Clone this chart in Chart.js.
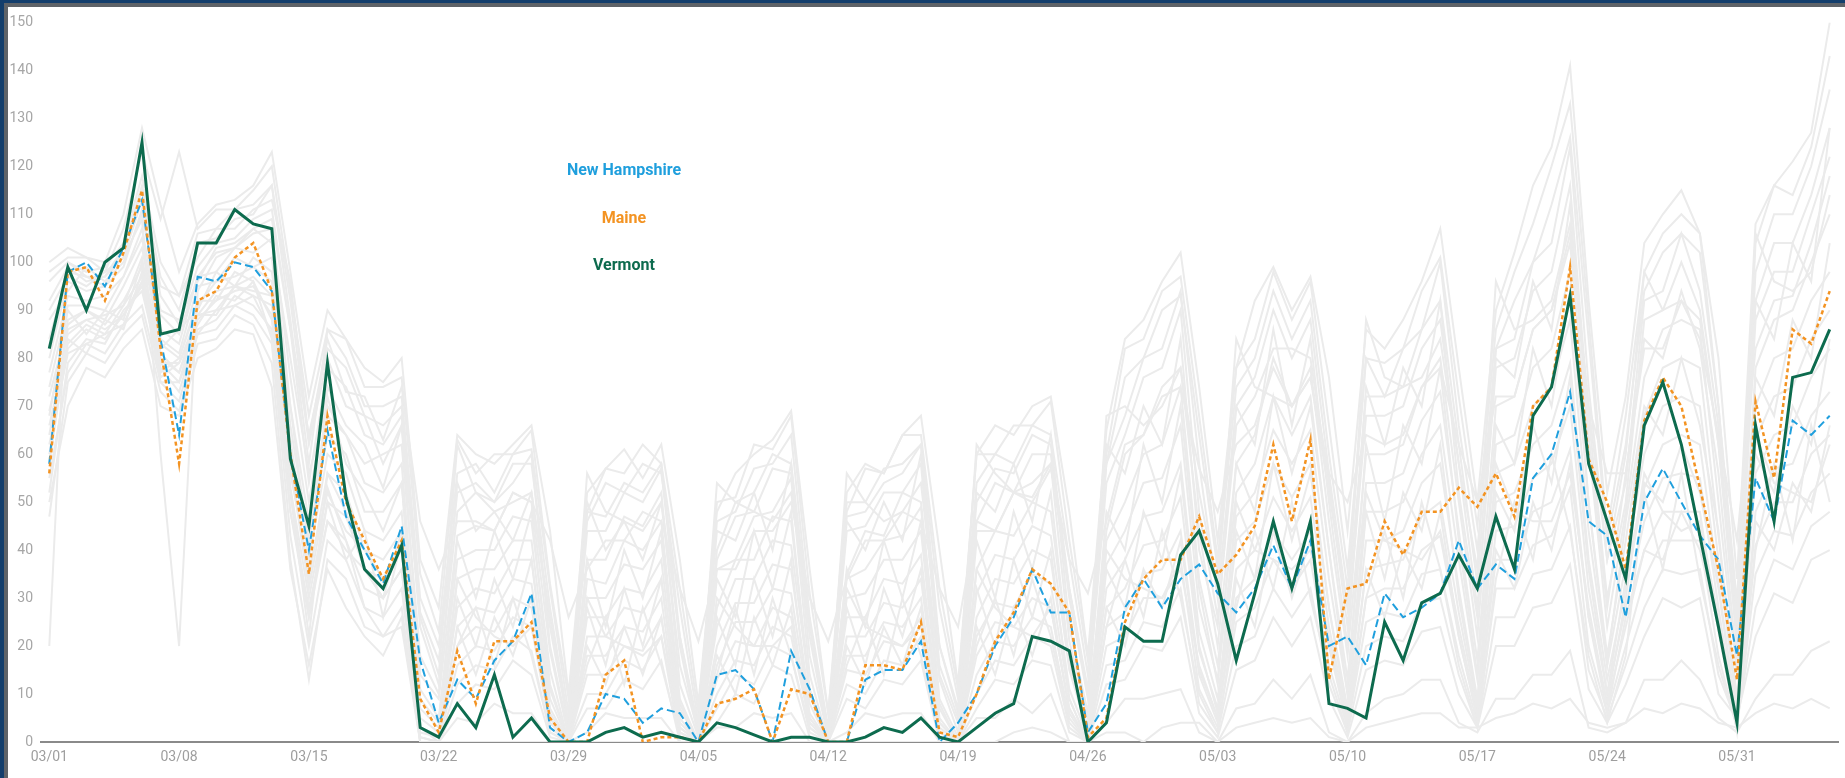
<!DOCTYPE html>
<html>
<head>
<meta charset="utf-8">
<title>New England vs other states</title>
<script src="https://cdn.jsdelivr.net/npm/chart.js@4.4.1/dist/chart.umd.min.js"></script>
<style>
  html, body { margin: 0; padding: 0; width: 1845px; height: 778px; overflow: hidden; background: #133e6c; }
  #edge { position: absolute; left: 4px; top: 3px; right: 0; bottom: 0; background: #5f6368; }
  #wrap { position: absolute; left: 8px; top: 7px; width: 1837px; height: 771px; background: #fff; }
</style>
</head>
<body>
<div id="edge"></div>
<div id="wrap"><canvas id="chart"></canvas></div>
<script>
// Dates 03/01 - 06/05
const days = [
  '03/01','03/02','03/03','03/04','03/05','03/06','03/07','03/08','03/09','03/10','03/11','03/12','03/13','03/14','03/15','03/16',
  '03/17','03/18','03/19','03/20','03/21','03/22','03/23','03/24','03/25','03/26','03/27','03/28','03/29','03/30','03/31',
  '04/01','04/02','04/03','04/04','04/05','04/06','04/07','04/08','04/09','04/10','04/11','04/12','04/13','04/14','04/15',
  '04/16','04/17','04/18','04/19','04/20','04/21','04/22','04/23','04/24','04/25','04/26','04/27','04/28','04/29','04/30',
  '05/01','05/02','05/03','05/04','05/05','05/06','05/07','05/08','05/09','05/10','05/11','05/12','05/13','05/14','05/15',
  '05/16','05/17','05/18','05/19','05/20','05/21','05/22','05/23','05/24','05/25','05/26','05/27','05/28','05/29','05/30',
  '05/31','06/01','06/02','06/03','06/04','06/05'
];

// highlighted states
const newHampshire = [
  58, 98, 100, 95, 103, 113, 84, 64, 97, 96, 100, 99, 94,
  60, 40, 65, 47, 40, 33, 45, 17,
  4, 13, 9, 17, 21, 31, 3,
  0, 2, 10, 9, 4, 7, 6,
  0, 14, 15, 11, 0, 19, 11,
  0, 0, 13, 15, 15, 21, 0,
  4, 10, 20, 26, 36, 27, 27,
  2, 8, 28, 34, 28, 34, 37,
  31, 27, 32, 41, 32, 42, 20,
  22, 16, 31, 26, 28, 31, 42,
  32, 37, 34, 55, 60, 73, 46,
  43, 26, 50, 57, 50, 43, 38,
  18, 55, 46, 67, 64, 68
];
const maine = [
  56, 98, 99, 92, 102, 115, 82, 58, 92, 94, 101, 104, 94,
  60, 35, 68, 50, 42, 34, 42, 9,
  2, 19, 8, 21, 21, 25, 5,
  0, 0, 14, 17, 0, 1, 1,
  0, 8, 9, 11, 0, 11, 10,
  0, 0, 16, 16, 15, 25, 2,
  1, 10, 21, 27, 36, 33, 27,
  1, 5, 25, 34, 38, 38, 47,
  35, 39, 45, 62, 46, 63, 13,
  32, 33, 46, 39, 48, 48, 53,
  49, 56, 47, 70, 74, 99, 59,
  50, 36, 67, 76, 70, 53, 36,
  13, 71, 55, 86, 83, 94
];
const vermont = [
  82, 99, 90, 100, 103, 125, 85, 86, 104, 104, 111, 108, 107,
  59, 45, 79, 51, 36, 32, 41, 3,
  1, 8, 3, 14, 1, 5, 0,
  0, 0, 2, 3, 1, 2, 1,
  0, 4, 3, 1.5, 0, 1, 1,
  0, 0, 1, 3, 2, 5, 1,
  0, 3, 6, 8, 22, 21, 19,
  0, 4, 24, 21, 21, 39, 44,
  33, 17, 31, 46, 32, 46, 8,
  7, 5, 25, 17, 29, 31, 39,
  32, 47, 36, 68, 74, 93, 58,
  46, 34, 66, 75, 62, 43, 24,
  4, 66, 46, 76, 77, 86
];

// the other states, drawn in grey
const grayA = [
  100, 103, 101, 100, 110, 128, 112, 98, 108, 112, 113, 116, 123,
  98, 72, 90, 84, 78, 75, 80, 38,
  28, 64, 60, 58, 62, 66, 44,
  10, 52, 57, 61, 55, 62, 38,
  8, 48, 56, 60, 63, 69, 36,
  6, 52, 58, 56, 64, 68, 40,
  12, 60, 66, 64, 70, 72, 48,
  18, 65, 84, 88, 96, 102, 74,
  42, 78, 92, 99, 90, 97, 76,
  44, 86, 82, 88, 96, 107, 78,
  50, 90, 102, 116, 124, 141, 92,
  52, 72, 104, 110, 115, 106, 80,
  34, 108, 116, 121, 127, 150
];
const grayB = [
  96, 100, 98, 99, 104, 118, 100, 93, 106, 107, 111, 112, 116,
  88, 58, 86, 80, 70, 70, 72, 30,
  20, 56, 58, 52, 60, 61, 32,
  6, 46, 54, 52, 58, 56, 28,
  4, 46, 48, 57, 58, 64, 26,
  3, 50, 50, 57, 58, 62, 28,
  9, 54, 60, 58, 66, 64, 38,
  14, 58, 76, 80, 90, 93, 64,
  36, 74, 80, 94, 84, 92, 60,
  32, 80, 72, 82, 86, 100, 66,
  40, 82, 92, 100, 112, 126, 84,
  42, 62, 94, 102, 106, 102, 70,
  26, 98, 110, 110, 120, 136
];
const grayC = [
  84, 98, 97, 95, 103, 115, 93, 87, 99, 104, 105, 109, 111,
  86, 54, 78, 74, 64, 62, 68, 24,
  12, 48, 52, 50, 54, 60, 20,
  2, 44, 44, 52, 50, 57, 20,
  1, 38, 47, 48, 57, 56, 22,
  1, 44, 45, 52, 52, 58, 16,
  5, 46, 54, 52, 60, 60, 30,
  9, 54, 64, 76, 78, 90, 48,
  26, 66, 72, 82, 82, 80, 54,
  24, 68, 68, 70, 82, 88, 58,
  28, 78, 80, 94, 98, 116, 68,
  30, 50, 88, 90, 100, 90, 62,
  20, 88, 98, 98, 110, 122
];
const grayD = [
  80, 96, 94, 95, 99, 111, 89, 85, 97, 102, 103, 106, 107,
  76, 50, 74, 66, 62, 53, 66, 14,
  9, 43, 45, 44, 52, 50, 19,
  1, 38, 38, 47, 45, 52, 12,
  1, 36, 38, 47, 48, 55, 14,
  0, 35, 44, 43, 52, 50, 13,
  2, 44, 44, 52, 51, 58, 21,
  5, 44, 60, 64, 74, 78, 44,
  20, 58, 64, 80, 70, 78, 46,
  18, 60, 60, 62, 74, 80, 50,
  22, 70, 72, 86, 90, 104, 62,
  24, 48, 76, 86, 88, 86, 50,
  14, 78, 88, 90, 100, 110
];
const grayE = [
  77, 93, 92, 93, 97, 107, 86, 83, 97, 98, 103, 102, 105,
  70, 46, 68, 64, 54, 52, 58, 11,
  5, 38, 40, 40, 47, 46, 15,
  0, 34, 33, 42, 40, 46, 9,
  0, 28, 38, 38, 47, 46, 11,
  0, 34, 36, 42, 43, 49, 9,
  1, 36, 44, 43, 50, 48, 17,
  3, 42, 50, 60, 62, 74, 34,
  16, 52, 58, 72, 64, 72, 40,
  13, 54, 54, 56, 67, 73, 44,
  17, 62, 64, 78, 82, 98, 50,
  18, 42, 68, 78, 80, 78, 43,
  9, 70, 80, 82, 92, 98
];
const grayF = [
  74, 91, 91, 90, 97, 105, 84, 81, 95, 96, 101, 99, 101,
  66, 42, 64, 60, 48, 48, 54, 7,
  3, 34, 36, 36, 42, 42, 11,
  0, 30, 30, 37, 36, 42, 7,
  0, 24, 34, 34, 42, 41, 11,
  0, 30, 31, 38, 38, 44, 7,
  0, 31, 39, 38, 45, 43, 15,
  2, 37, 44, 54, 55, 66, 28,
  13, 47, 52, 65, 58, 65, 34,
  10, 48, 48, 50, 60, 66, 38,
  13, 56, 58, 70, 74, 88, 44,
  16, 37, 60, 70, 72, 70, 38,
  7, 63, 72, 74, 84, 90
];
const grayG = [
  72, 87, 90, 88, 95, 103, 83, 80, 91, 96, 97, 99, 96,
  63, 38, 60, 56, 44, 42, 48, 5,
  2, 28, 32, 31, 38, 38, 9,
  0, 26, 26, 32, 31, 38, 5,
  0, 20, 29, 29, 37, 36, 8,
  0, 26, 26, 34, 33, 39, 5,
  0, 26, 34, 33, 40, 38, 11,
  1, 32, 38, 47, 48, 58, 23,
  9, 42, 46, 58, 51, 58, 28,
  7, 42, 42, 44, 54, 58, 32,
  9, 50, 52, 62, 66, 79, 38,
  13, 32, 53, 62, 64, 62, 33,
  5, 56, 64, 66, 76, 82
];
const grayH = [
  69, 85, 88, 89, 91, 101, 79, 79, 89, 94, 95, 97, 93,
  58, 34, 56, 52, 40, 38, 44, 3,
  1, 24, 28, 27, 34, 33, 7,
  0, 22, 22, 28, 27, 34, 3,
  0, 16, 25, 25, 32, 31, 6,
  0, 22, 22, 29, 28, 34, 4,
  0, 22, 29, 28, 35, 33, 9,
  0, 28, 32, 41, 42, 51, 19,
  7, 36, 40, 51, 44, 51, 24,
  5, 36, 37, 38, 47, 50, 27,
  7, 44, 45, 55, 58, 70, 32,
  10, 28, 46, 55, 56, 55, 28,
  3, 48, 57, 58, 68, 73
];
const grayI = [
  66, 83, 87, 85, 91, 97, 79, 75, 89, 90, 95, 93, 91,
  53, 30, 50, 47, 36, 34, 40, 1,
  0, 20, 24, 23, 30, 28, 5,
  0, 18, 18, 24, 23, 30, 2,
  0, 13, 21, 20, 28, 26, 5,
  0, 18, 18, 25, 24, 30, 2,
  0, 18, 25, 24, 30, 28, 7,
  0, 24, 27, 35, 36, 44, 15,
  5, 30, 34, 44, 38, 44, 20,
  4, 30, 32, 32, 40, 43, 22,
  5, 38, 38, 48, 50, 61, 26,
  8, 24, 40, 48, 48, 48, 23,
  3, 41, 50, 50, 60, 64
];
const grayJ = [
  62, 81, 83, 85, 87, 96, 75, 75, 85, 90, 91, 93, 85,
  48, 26, 46, 42, 32, 30, 36, 0,
  0, 16, 20, 19, 26, 24, 3,
  0, 14, 14, 20, 19, 26, 1,
  0, 10, 17, 16, 24, 22, 4,
  0, 15, 14, 21, 20, 26, 1,
  0, 14, 21, 20, 26, 24, 5,
  0, 20, 22, 30, 30, 38, 11,
  3, 25, 28, 38, 32, 38, 16,
  3, 25, 27, 26, 35, 36, 18,
  4, 32, 32, 41, 43, 53, 20,
  6, 20, 34, 42, 42, 42, 18,
  3, 35, 44, 43, 52, 56
];
const grayK = [
  55, 77, 83, 81, 87, 91, 75, 71, 85, 86, 91, 89, 83,
  43, 20, 42, 38, 28, 26, 32, 0,
  0, 12, 16, 15, 22, 19, 2,
  0, 10, 10, 17, 15, 22, 0,
  0, 7, 14, 12, 20, 18, 3,
  0, 12, 10, 17, 16, 22, 0,
  0, 10, 17, 16, 22, 20, 3,
  0, 16, 17, 25, 24, 32, 8,
  2, 20, 22, 32, 26, 32, 12,
  2, 20, 22, 21, 29, 30, 14,
  3, 26, 26, 35, 36, 45, 15,
  5, 16, 28, 36, 35, 36, 14,
  4, 28, 38, 36, 45, 48
];
const grayL = [
  47, 75, 81, 79, 85, 89, 73, 69, 83, 84, 89, 87, 79,
  38, 13, 38, 34, 24, 22, 28, 0,
  0, 8, 12, 11, 17, 14, 1,
  0, 7, 7, 13, 11, 17, 0,
  0, 4, 10, 8, 16, 14, 1,
  0, 9, 7, 13, 12, 17, 0,
  0, 7, 13, 12, 17, 16, 2,
  0, 12, 13, 20, 19, 26, 6,
  1, 15, 17, 26, 20, 26, 9,
  1, 15, 17, 16, 23, 24, 10,
  3, 20, 20, 28, 29, 37, 11,
  4, 12, 22, 30, 28, 30, 10,
  5, 22, 31, 29, 38, 40
];
const grayM = [
  20, 100, 97, 97, 101, 109, 60, 20, 94, 101, 103, 107, 109,
  86, 64, 82, 78, 68, 66, 70, 27,
  17, 52, 54, 50, 58, 58, 28,
  4, 48, 47, 54, 52, 58, 22,
  3, 40, 50, 52, 60, 58, 25,
  2, 47, 48, 54, 56, 62, 20,
  7, 50, 57, 56, 64, 62, 32,
  11, 58, 68, 80, 82, 94, 58,
  30, 70, 76, 90, 80, 88, 56,
  28, 72, 72, 74, 86, 92, 62,
  33, 82, 84, 100, 104, 124, 74,
  38, 54, 92, 94, 106, 94, 66,
  22, 92, 104, 104, 114, 128
];
const grayN = [
  60, 82, 86, 84, 89, 95, 81, 77, 89, 89, 95, 94, 93,
  58, 32, 53, 42, 28, 22, 24, 0,
  0, 5, 4, 8, 6, 6, 0,
  0, 2, 6, 5, 5, 5, 0,
  0, 3, 3, 6, 5, 6, 0,
  0, 2, 6, 5, 6, 6, 0,
  0, 5, 5, 9, 6, 10, 0,
  0, 4, 9, 9, 10, 11, 2,
  0, 7, 8, 13, 9, 14, 2,
  0, 6, 9, 10, 13, 13, 4,
  2, 9, 9, 14, 14, 19, 3,
  2, 4, 13, 13, 17, 13, 5,
  2, 9, 14, 14, 19, 21
];
const grayO = [
  90, 97, 95, 98, 101, 113, 95, 93, 101, 107, 107, 111, 113,
  96, 63, 84, 73, 72, 63, 74, 46,
  36, 46, 46, 44, 52, 50, 42,
  26, 36, 42, 42, 48, 46, 32,
  21, 36, 36, 44, 44, 50, 30,
  21, 34, 42, 42, 48, 46, 32,
  24, 46, 44, 52, 50, 57, 38,
  31, 46, 62, 64, 72, 74, 57,
  48, 62, 66, 78, 70, 76, 56,
  50, 64, 62, 64, 74, 78, 62,
  50, 72, 72, 86, 90, 106, 70,
  56, 56, 82, 82, 92, 84, 64,
  42, 82, 92, 93, 104, 118
];
const grayP = [
  88, 94, 99, 96, 100, 110, 90, 88, 96, 103, 104, 107, 104,
  80, 56, 70, 64, 58, 60, 62, 18,
  10, 54, 44, 48, 42, 52, 24,
  3, 50, 40, 46, 38, 50, 16,
  2, 44, 42, 52, 40, 58, 18,
  1, 46, 40, 50, 42, 60, 14,
  4, 52, 48, 58, 46, 64, 24,
  6, 62, 56, 70, 62, 84, 40,
  24, 70, 62, 86, 66, 84, 50,
  20, 74, 62, 78, 70, 92, 52,
  26, 80, 76, 96, 86, 112, 64,
  28, 56, 84, 80, 94, 82, 56,
  16, 92, 84, 104, 96, 128
];
const grayQ = [
  68, 90, 85, 90, 88, 100, 82, 86, 90, 98, 95, 101, 98,
  70, 40, 72, 58, 52, 44, 54, 9,
  4, 42, 30, 44, 34, 48, 12,
  0, 38, 24, 40, 30, 44, 8,
  0, 34, 26, 44, 32, 48, 10,
  0, 36, 24, 42, 30, 46, 8,
  0, 42, 30, 48, 36, 52, 16,
  2, 48, 40, 62, 50, 70, 32,
  12, 58, 48, 72, 56, 70, 40,
  10, 62, 46, 66, 58, 78, 42,
  14, 66, 58, 82, 70, 94, 50,
  16, 46, 70, 64, 80, 66, 44,
  8, 76, 68, 88, 80, 104
];
const grayR = [
  58, 88, 90, 87, 92, 99, 77, 80, 92, 92, 98, 96, 88,
  52, 22, 56, 48, 36, 30, 44, 2,
  1, 30, 20, 34, 24, 38, 6,
  0, 28, 16, 32, 20, 34, 4,
  0, 26, 16, 34, 22, 38, 5,
  0, 28, 16, 32, 22, 36, 4,
  0, 32, 20, 38, 26, 40, 9,
  0, 36, 28, 48, 38, 56, 20,
  6, 44, 34, 58, 42, 56, 28,
  5, 48, 34, 52, 44, 62, 30,
  8, 52, 44, 66, 54, 76, 36,
  10, 34, 54, 50, 62, 52, 32,
  4, 60, 52, 70, 62, 84
];
const grayS = [
  52, 79, 84, 83, 90, 94, 78, 73, 86, 88, 93, 91, 86,
  48, 28, 46, 40, 36, 30, 36, 1,
  0, 24, 14, 26, 18, 30, 4,
  0, 20, 12, 24, 14, 26, 2,
  0, 18, 10, 26, 16, 28, 3,
  0, 20, 12, 24, 16, 28, 2,
  0, 24, 14, 28, 18, 30, 6,
  0, 28, 20, 36, 28, 42, 14,
  4, 34, 24, 44, 30, 42, 20,
  3, 36, 26, 40, 32, 48, 22,
  5, 40, 32, 50, 40, 58, 26,
  6, 26, 40, 38, 48, 40, 24,
  2, 46, 40, 54, 48, 66
];
const grayT = [
  64, 86, 88, 86, 89, 96, 80, 77, 88, 92, 94, 95, 89,
  56, 36, 52, 44, 40, 34, 40, 3,
  0, 34, 26, 22, 20, 24, 5,
  0, 30, 22, 20, 18, 22, 3,
  0, 30, 24, 20, 20, 24, 4,
  0, 32, 24, 22, 20, 24, 3,
  0, 36, 28, 24, 22, 28, 7,
  0, 40, 34, 32, 30, 36, 16,
  5, 50, 40, 38, 36, 40, 22,
  4, 52, 42, 40, 38, 44, 24,
  6, 58, 48, 46, 46, 56, 28,
  8, 30, 56, 48, 44, 46, 26,
  3, 64, 54, 52, 50, 62
];
const grayU = [
  92, 99, 96, 97, 103, 116, 97, 90, 104, 105, 109, 110, 116,
  92, 62, 80, 70, 68, 58, 66, 26,
  14, 62, 52, 48, 50, 52, 26,
  3, 56, 48, 46, 44, 50, 22,
  2, 54, 50, 48, 46, 52, 24,
  2, 56, 50, 46, 48, 54, 20,
  6, 62, 56, 52, 54, 58, 32,
  10, 68, 70, 66, 70, 78, 52,
  32, 84, 74, 72, 70, 76, 52,
  28, 88, 76, 74, 76, 84, 58,
  36, 96, 86, 88, 92, 108, 70,
  38, 60, 98, 90, 92, 88, 62,
  24, 106, 96, 94, 98, 114
];
const grayV = [
  58, 84, 81, 88, 86, 98, 76, 79, 87, 93, 92, 96, 84,
  52, 26, 50, 38, 44, 26, 42, 0,
  0, 20, 28, 16, 30, 18, 2,
  0, 16, 26, 12, 28, 16, 1,
  0, 14, 28, 14, 30, 18, 2,
  0, 16, 26, 14, 30, 18, 1,
  0, 20, 30, 18, 34, 22, 4,
  0, 24, 38, 26, 44, 30, 10,
  2, 28, 44, 32, 50, 30, 14,
  2, 30, 44, 30, 50, 36, 16,
  3, 34, 50, 38, 60, 44, 18,
  4, 18, 52, 36, 56, 34, 16,
  3, 40, 58, 42, 66, 50
];
const grayW = [
  50, 70, 78, 76, 82, 86, 70, 68, 80, 82, 86, 85, 74,
  36, 16, 36, 28, 22, 18, 26, 0,
  0, 0, 0, 0, 0, 0, 0,
  0, 0, 0, 0, 0, 0, 0,
  0, 0, 0, 0, 0, 0, 0,
  0, 0, 0, 0, 0, 0, 0,
  0, 0, 0, 2, 3, 2, 0,
  0, 2, 2, 0, 3, 4, 4,
  0, 3, 4, 5, 4, 5, 1,
  0, 3, 4, 5, 6, 6, 3,
  3, 5, 6, 8, 7, 9, 4,
  3, 4, 7, 6, 8, 7, 4,
  3, 6, 8, 7, 9, 7
];
const grayX = [
  98, 101, 101, 98, 107, 123, 109, 123, 107, 111, 111, 115, 120,
  94, 68, 86, 84, 74, 74, 76, 35,
  23, 63, 56, 60, 60, 65, 33,
  9, 48, 57, 56, 62, 58, 32,
  6, 50, 51, 62, 61, 68, 31,
  6, 48, 57, 56, 64, 64, 32,
  11, 60, 60, 66, 66, 71, 42,
  17, 60, 82, 84, 94, 97, 68,
  38, 78, 84, 98, 88, 96, 66,
  36, 80, 79, 82, 94, 101, 72,
  45, 86, 98, 108, 120, 133, 88,
  44, 68, 98, 106, 110, 106, 70,
  29, 104, 116, 114, 124, 143
];
const otherStates = [
  grayA, grayB, grayC, grayD, grayE, grayF, grayG, grayH, grayI, grayJ, grayK, grayL,
  grayM, grayN, grayO, grayP, grayQ, grayR, grayS, grayT, grayU, grayV, grayW, grayX
];

const yTicks = { min: 0, max: 150, step: 10 };

const highlighted = [
  { name: 'New Hampshire', values: newHampshire, color: '#1f9fdd', dash: [8, 4], width: 2, order: 2 },
  { name: 'Maine', values: maine, color: '#f39322', dash: [4, 3], width: 2.5, order: 1 },
  { name: 'Vermont', values: vermont, color: '#0d6b4e', dash: [], width: 3, order: 0 }
];

Chart.defaults.font.family = 'Roboto, "Open Sans", sans-serif';

const datasets = highlighted.map(h => ({
  label: h.name,
  data: h.values,
  borderColor: h.color,
  borderDash: h.dash,
  borderWidth: h.width,
  pointRadius: 0,
  tension: 0,
  fill: false,
  order: h.order
}));
otherStates.forEach((s, i) => {
  datasets.push({
    label: 'state ' + (i + 1),
    data: s,
    borderColor: '#ebebeb',
    borderWidth: 2,
    pointRadius: 0,
    tension: 0,
    fill: false,
    order: 5
  });
});

// names of the three states, stacked in the upper left
const stateLabels = {
  id: 'stateLabels',
  afterDraw(chart) {
    const { ctx, chartArea } = chart;
    const x = chartArea.left + chartArea.width * 0.3246;
    ctx.save();
    ctx.font = 'bold 16px Roboto';
    ctx.textAlign = 'center';
    ctx.textBaseline = 'middle';
    highlighted.forEach((h, i) => {
      ctx.fillStyle = h.color;
      ctx.fillText(h.name, x, chartArea.top + 149 + i * 47.5);
    });
    ctx.restore();
  }
};

new Chart(document.getElementById('chart'), {
  type: 'line',
  data: { labels: days, datasets: datasets },
  options: {
    responsive: true,
    maintainAspectRatio: false,
    animation: false,
    layout: { padding: { top: 12, right: 6, left: 0, bottom: 0 } },
    plugins: {
      legend: { display: false },
      tooltip: { enabled: false }
    },
    scales: {
      x: {
        offset: true,
        grid: { display: false, drawTicks: false },
        border: { display: false },
        ticks: {
          autoSkip: false,
          maxRotation: 0,
          padding: 7,
          color: '#9e9e9e',
          font: { size: 14 },
          callback: (v, i) => (i % 7 === 0 ? days[i] : '')
        },
        afterFit: s => { s.height = 36; }
      },
      y: {
        min: yTicks.min,
        max: yTicks.max,
        border: { display: false },
        grid: {
          drawTicks: false,
          color: c => (c.tick && c.tick.value === 0 ? '#8a8a8a' : 'rgba(0,0,0,0)'),
          lineWidth: 2
        },
        ticks: {
          stepSize: yTicks.step,
          padding: 7,
          color: '#a6a6a6',
          font: { size: 14 }
        },
        afterFit: s => { s.width = 32; }
      }
    }
  },
  plugins: [stateLabels]
});
</script>
</body>
</html>
